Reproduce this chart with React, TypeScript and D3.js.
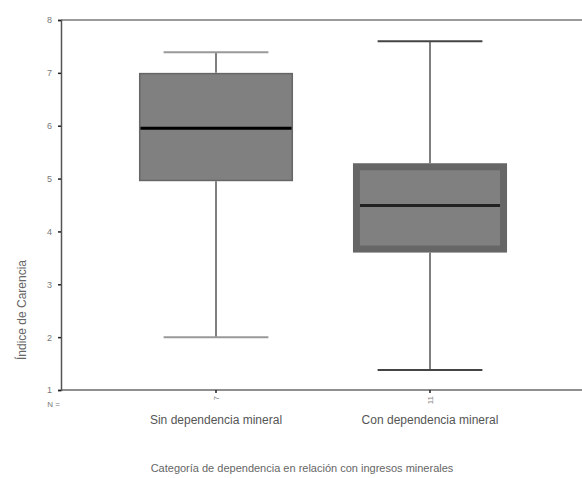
import React from "react";
import * as d3 from "d3";

// data
const categories = ["Sin dependencia mineral", "Con dependencia mineral"];
const counts = ["7", "11"];
const whiskerLow = [2.0, 1.38];
const q1 = [4.95, 3.6];
const median = [5.95, 4.49];
const q3 = [7.0, 5.29];
const whiskerHigh = [7.39, 7.6];
const yTicks = [1, 2, 3, 4, 5, 6, 7, 8];

const W = 582;
const H = 478;
const borderW = [1.5, 7];

const App = () => {
  const svgRef = React.useRef<SVGSVGElement>(null);

  React.useEffect(() => {
    const svg = d3.select(svgRef.current);
    svg.selectAll("*").remove();

    const y = d3.scaleLinear().domain([1, 8]).range([390, 20]);
    const x = d3
      .scaleBand<string>()
      .domain(categories)
      .range([109, 537])
      .paddingInner(0.28)
      .paddingOuter(0.14);
    const bw = x.bandwidth();
    const font = "Arial, 'Liberation Sans', sans-serif";

    // frame lines top & bottom
    svg.append("line").attr("x1", 61).attr("x2", W).attr("y1", y(8)).attr("y2", y(8))
      .attr("stroke", "#7a7a7a").attr("stroke-width", 1.5);
    svg.append("line").attr("x1", 61).attr("x2", W).attr("y1", y(1)).attr("y2", y(1))
      .attr("stroke", "#6a6a6a").attr("stroke-width", 1.5);

    // y axis
    const yAxis = d3.axisLeft(y).tickValues(yTicks).tickSize(3).tickPadding(6).tickFormat(d3.format("d"));
    const yg = svg.append("g").attr("transform", "translate(61,0)").call(yAxis);
    yg.select(".domain").attr("stroke", "#555").attr("stroke-width", 1.5);
    yg.selectAll(".tick line").attr("stroke", "#222").attr("stroke-width", 1.5);
    yg.selectAll("text").attr("font-size", 9).attr("fill", "#777").attr("font-family", font);

    // x ticks
    const xg = svg.append("g");
    categories.forEach((c, i) => {
      const cx = (x(c) as number) + bw / 2;
      xg.append("line").attr("x1", cx).attr("x2", cx).attr("y1", y(1)).attr("y2", y(1) + 3)
        .attr("stroke", "#222").attr("stroke-width", 1.5);
      xg.append("text")
        .attr("transform", `translate(${cx + 3},${y(1) + 6}) rotate(-90)`)
        .attr("text-anchor", "end")
        .attr("font-size", 8).attr("fill", "#888").attr("font-family", font)
        .text(counts[i]);
      xg.append("text").attr("x", cx).attr("y", 424).attr("text-anchor", "middle")
        .attr("font-size", 12).attr("fill", "#555").attr("font-family", font)
        .text(c);
    });
    svg.append("text").attr("x", 60).attr("y", 407).attr("text-anchor", "end")
      .attr("font-size", 8).attr("fill", "#777").attr("font-family", font).text("N =");

    // boxes
    categories.forEach((c, i) => {
      const x0 = x(c) as number;
      const cx = x0 + bw / 2;
      const cw = bw * 0.68;
      const g = svg.append("g");
      g.append("line").attr("x1", cx).attr("x2", cx).attr("y1", y(whiskerHigh[i])).attr("y2", y(q3[i]))
        .attr("stroke", "#555").attr("stroke-width", 1.5);
      g.append("line").attr("x1", cx).attr("x2", cx).attr("y1", y(q1[i])).attr("y2", y(whiskerLow[i]))
        .attr("stroke", "#555").attr("stroke-width", 1.5);
      [whiskerHigh[i], whiskerLow[i]].forEach((v) => {
        g.append("line").attr("x1", cx - cw / 2).attr("x2", cx + cw / 2).attr("y1", y(v)).attr("y2", y(v))
          .attr("stroke", i === 0 ? "#999" : "#444").attr("stroke-width", 2);
      });
      const b = borderW[i];
      g.append("rect").attr("x", x0).attr("y", y(q3[i])).attr("width", bw).attr("height", y(q1[i]) - y(q3[i]))
        .attr("fill", "#666");
      g.append("rect").attr("x", x0 + b).attr("y", y(q3[i]) + b).attr("width", bw - 2 * b)
        .attr("height", y(q1[i]) - y(q3[i]) - 2 * b).attr("fill", "#808080");
      g.append("line").attr("x1", x0 + b).attr("x2", x0 + bw - b).attr("y1", y(median[i])).attr("y2", y(median[i]))
        .attr("stroke", i === 0 ? "#000" : "#222").attr("stroke-width", 3);
    });

    // axis titles
    svg.append("text").attr("x", 302).attr("y", 472).attr("text-anchor", "middle")
      .attr("font-size", 11).attr("fill", "#666").attr("font-family", font)
      .text("Categoría de dependencia en relación con ingresos minerales");
    svg.append("text").attr("transform", "translate(26,310) rotate(-90)").attr("text-anchor", "middle")
      .attr("font-size", 12).attr("fill", "#666").attr("font-family", font)
      .text("Índice de Carencia");
  }, []);

  return (
    <svg ref={svgRef} width={W} height={H}
      style={{ position: "absolute", left: 0, top: 0, background: "#fff" }} />
  );
};

export default App;
